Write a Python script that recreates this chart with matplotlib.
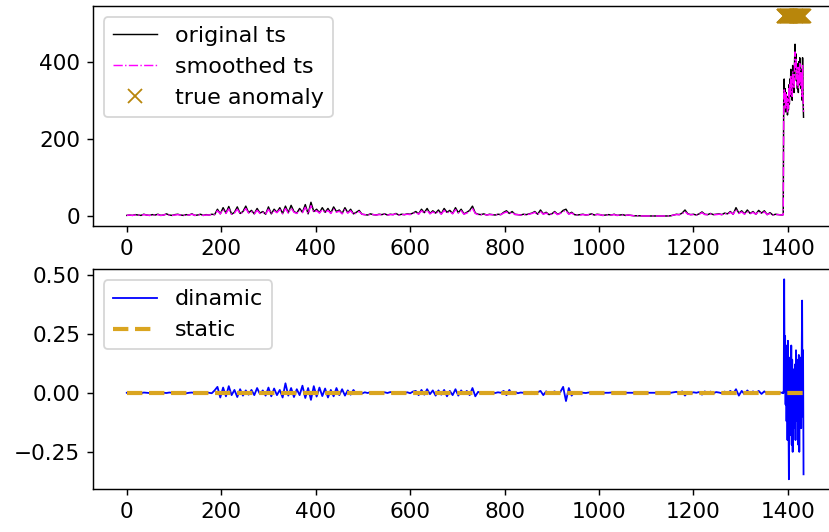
import matplotlib.pyplot as plt
import numpy as np

plt.rcParams['font.size'] = 12

# indeksy probek (co 6 w normalnej czesci, co 1 w anomalii)
idx = np.r_[np.arange(0, 1387, 6), np.arange(1388, 1434)]

original = [
    2, 3, 2, 4, 3, 2, 5, 3, 2, 4,
    3, 5, 2, 3, 6, 3, 2, 4, 5, 3,
    2, 4, 3, 6, 2, 3, 5, 2, 4, 3,
    5, 4, 18, 6, 22, 8, 25, 5, 10, 24,
    7, 12, 26, 9, 15, 6, 20, 8, 12, 5,
    24, 6, 18, 10, 22, 7, 26, 9, 28, 12,
    8, 20, 10, 30, 6, 36, 12, 18, 9, 22,
    10, 20, 8, 24, 12, 16, 7, 22, 9, 18,
    6, 10, 15, 5, 4, 3, 6, 4, 3, 5,
    4, 6, 3, 5, 4, 7, 3, 5, 4, 6,
    5, 8, 12, 6, 18, 9, 20, 7, 14, 8,
    16, 6, 20, 10, 15, 7, 22, 9, 18, 6,
    10, 15, 26, 8, 5, 4, 6, 3, 5, 4,
    3, 5, 4, 10, 14, 7, 12, 5, 4, 3,
    5, 4, 6, 8, 12, 5, 16, 6, 10, 4,
    6, 12, 5, 8, 15, 18, 6, 10, 4, 3,
    4, 5, 3, 4, 6, 3, 5, 4, 2, 3,
    4, 3, 5, 2, 3, 4, 2, 3, 2, 1,
    1, 1, 0.5, 0.5, 0.5, 0.5, 0.5, 0.5, 0.5, 0.5,
    0.5, 0.5, 1, 3, 5, 4, 8, 16, 6, 4,
    5, 3, 6, 11, 5, 4, 7, 4, 5, 6,
    4, 8, 6, 12, 5, 22, 8, 14, 6, 16,
    7, 12, 5, 15, 8, 14, 4, 9, 3, 5,
    4, 3,
    4, 3, 5, 300, 355, 290, 330, 270, 320, 280,
    310, 262, 300, 275, 340, 290, 355, 310, 380, 330,
    360, 300, 390, 340, 370, 320, 400, 445, 380, 420,
    350, 395, 330, 370, 320, 400, 340, 410, 360, 380,
    330, 380, 300, 410, 300, 256,
]

smoothed = [
    2, 3, 2, 3, 3, 2, 4, 3, 2, 3,
    3, 4, 2, 3, 5, 3, 2, 3, 4, 3,
    2, 3, 3, 5, 2, 3, 4, 2, 3, 3,
    4, 4, 14, 6, 17, 7, 19, 5, 8, 18,
    6, 10, 20, 8, 12, 6, 15, 7, 10, 5,
    18, 6, 14, 9, 17, 6, 20, 8, 21, 10,
    7, 15, 9, 23, 6, 27, 10, 14, 8, 17,
    9, 15, 7, 18, 10, 13, 6, 17, 8, 14,
    5, 8, 12, 5, 4, 3, 5, 4, 3, 4,
    4, 5, 3, 4, 4, 6, 3, 4, 4, 5,
    4, 7, 10, 5, 14, 8, 15, 6, 11, 7,
    12, 5, 15, 8, 12, 6, 17, 8, 14, 5,
    8, 12, 20, 7, 4, 4, 5, 3, 4, 4,
    3, 4, 4, 8, 11, 6, 10, 4, 4, 3,
    4, 4, 5, 7, 10, 4, 12, 5, 8, 4,
    5, 10, 4, 7, 12, 14, 5, 8, 4, 3,
    3, 4, 3, 4, 5, 3, 4, 4, 2, 3,
    3, 3, 4, 2, 3, 3, 2, 3, 2, 1,
    1, 1, 0.5, 0.5, 0.5, 0.5, 0.5, 0.5, 0.5, 0.5,
    0.5, 0.5, 1, 3, 4, 4, 6, 12, 5, 4,
    4, 3, 5, 9, 4, 4, 6, 4, 4, 5,
    4, 7, 5, 10, 5, 17, 7, 11, 5, 12,
    6, 10, 5, 12, 7, 11, 4, 7, 3, 4,
    4, 3,
    4, 3, 4, 260, 330, 295, 320, 280, 315, 285,
    305, 270, 295, 280, 330, 295, 345, 315, 365, 335,
    355, 310, 375, 345, 365, 330, 390, 425, 385, 410,
    355, 385, 340, 365, 330, 385, 345, 395, 360, 375,
    335, 370, 310, 390, 305, 270,
]

dinamic = [
    0, 0.001, -0.001, 0.002, 0, -0.002, 0.001, 0, -0.001, 0.002,
    0, -0.001, 0.002, 0, -0.001, 0.001, 0, 0.002, -0.001, 0,
    0.001, -0.002, 0, 0.001, -0.001, 0.002, 0, -0.001, 0.001, 0,
    -0.002, 0.01, 0.025, -0.02, 0.022, -0.015, 0.028, -0.01, 0.012, -0.018,
    0.015, -0.012, 0.01, -0.008, 0.012, -0.01, 0.02, -0.006, 0.01, -0.012,
    0.022, -0.015, 0.018, -0.01, 0.012, -0.02, 0.04, -0.012, 0.02, -0.018,
    0.015, -0.01, 0.03, -0.022, 0.02, -0.03, 0.028, -0.016, 0.022, -0.014,
    0.018, -0.02, 0.012, -0.015, 0.02, -0.01, 0.015, -0.012, 0.01, -0.008,
    0.012, -0.005, 0.004, -0.003, 0.002, -0.001, 0.003, 0, -0.002, 0.001,
    0, 0.002, -0.001, 0.003, 0, -0.002, 0.001, 0, -0.001, 0.002,
    -0.002, 0.005, 0.008, -0.01, 0.012, -0.008, 0.015, -0.006, 0.01, -0.012,
    0.01, -0.008, 0.012, -0.015, 0.008, -0.01, 0.015, -0.012, 0.01, -0.006,
    0.008, -0.01, 0.02, -0.015, 0.004, -0.002, 0.003, -0.001, 0.002, 0,
    -0.001, 0.002, 0, 0.008, -0.01, 0.012, -0.006, 0.004, -0.002, 0.001,
    0, -0.001, 0.002, 0.004, -0.006, 0.002, 0.008, -0.01, 0.006, -0.002,
    0.001, 0.006, -0.004, 0.003, 0.025, -0.035, 0.02, -0.012, 0.004, -0.002,
    0.001, 0, -0.001, 0.001, 0.002, -0.001, 0, 0.001, -0.001, 0,
    0, 0.001, 0, -0.001, 0, 0.001, 0, 0, 0, 0,
    0, 0, 0, 0, 0, 0, 0, 0, 0, 0,
    0, 0, 0, 0.002, 0.004, -0.002, 0.006, -0.012, 0.004, -0.002,
    0.002, 0, 0.003, -0.008, 0.006, -0.004, 0.005, -0.002, 0.003, 0.001,
    -0.002, 0.005, -0.003, 0.008, -0.004, 0.015, -0.012, 0.008, -0.006, 0.01,
    -0.004, 0.006, -0.002, 0.008, -0.005, 0.006, -0.003, 0.004, -0.001, 0.002,
    0.001, 0,
    0, 0.002, -0.002, 0.001, 0.48, 0.02, 0.24, -0.05, 0.2, -0.12,
    0.18, -0.2, 0.22, -0.05, -0.366, 0.12, -0.18, 0.15, -0.1, 0.2,
    -0.22, 0.14, -0.25, 0.08, -0.15, 0.1, -0.08, 0.12, -0.2, 0.18,
    -0.12, 0.05, -0.1, 0.14, -0.22, 0.16, -0.25, 0.15, -0.1, 0.12,
    -0.15, 0.1, 0.39, -0.1, 0.18, -0.345,
]

static = [0] * len(idx)

anomaly_idx = np.arange(1391, 1434)
anomaly_val = [518] * len(anomaly_idx)

fig, (ax1, ax2) = plt.subplots(2, 1, figsize=(829 / 130, 532 / 130), dpi=130)
plt.subplots_adjust(left=0.1121, right=1.0101, top=0.9887, bottom=0.0803, hspace=0.197)

ax1.plot(idx, original, color='k', lw=0.8, label='original ts')
ax1.plot(idx, smoothed, color='magenta', ls='-.', lw=0.8, label='smoothed ts')
ax1.plot(anomaly_idx, anomaly_val, 'x', color='darkgoldenrod', ms=8, label='true anomaly')
ax1.set_yticks([0, 200, 400])
ax1.legend(loc='upper left', fontsize=12.3)

ax2.plot(idx, dinamic, color='blue', lw=1, label='dinamic')
ax2.plot(idx, static, color='goldenrod', ls='--', lw=2.3, label='static')
ax2.set_yticks([-0.25, 0.0, 0.25, 0.5])
ax2.legend(loc='upper left', fontsize=12.3)

plt.savefig('out.png', dpi=130)
